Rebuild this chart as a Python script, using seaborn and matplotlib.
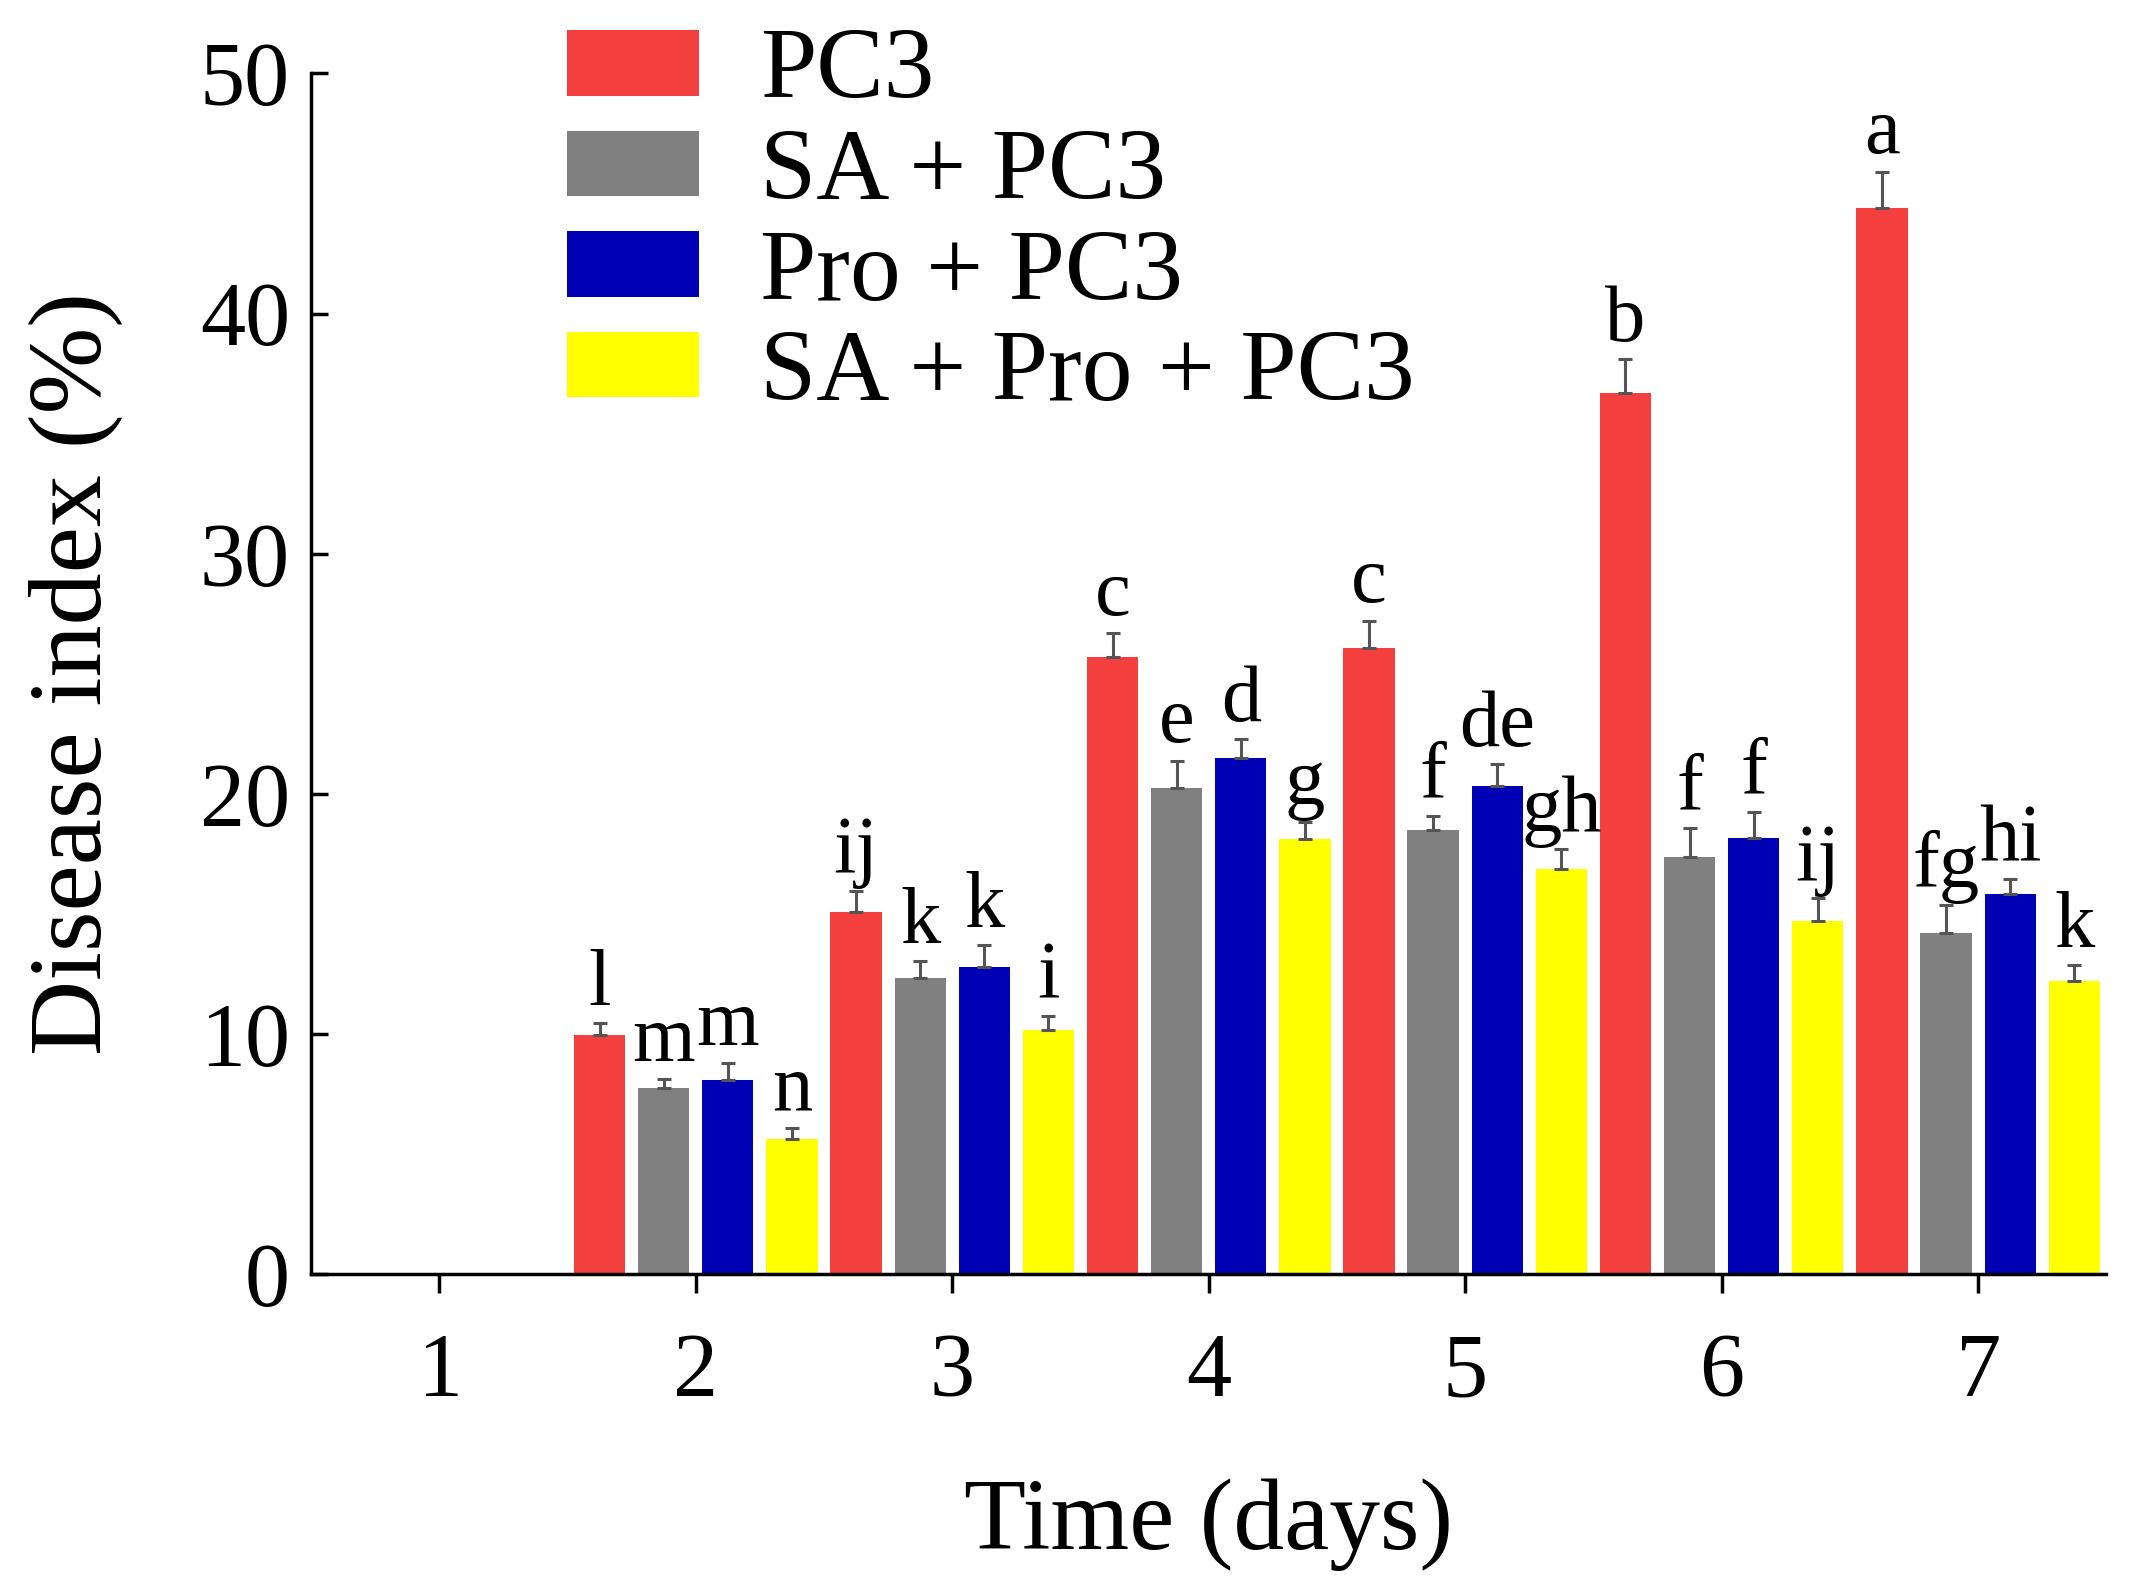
import numpy as np
import pandas as pd
import matplotlib
matplotlib.use("Agg")
import matplotlib.pyplot as plt
import seaborn as sns

days = ["1", "2", "3", "4", "5", "6", "7"]
groups = ["PC3", "SA + PC3", "Pro + PC3", "SA + Pro + PC3"]
colors = ["#F43F3F", "#808080", "#0000B4", "#FFFF00"]

pc3 = [0, 9.96, 15.08, 25.7, 26.06, 36.7, 44.4]
sa_pc3 = [0, 7.75, 12.35, 20.24, 18.5, 17.37, 14.22]
pro_pc3 = [0, 8.09, 12.81, 21.49, 20.33, 18.18, 15.83]
sa_pro_pc3 = [0, 5.62, 10.16, 18.13, 16.89, 14.7, 12.23]

pc3_err = [0, 0.5, 0.9, 1.0, 1.15, 1.4, 1.5]
sa_pc3_err = [0, 0.38, 0.7, 1.15, 0.58, 1.2, 1.16]
pro_pc3_err = [0, 0.7, 0.9, 0.8, 0.9, 1.06, 0.64]
sa_pro_pc3_err = [0, 0.46, 0.6, 0.7, 0.8, 0.97, 0.64]

pc3_letters = ["", "l", "ij", "c", "c", "b", "a"]
sa_pc3_letters = ["", "m", "k", "e", "f", "f", "fg"]
pro_pc3_letters = ["", "m", "k", "d", "de", "f", "hi"]
sa_pro_pc3_letters = ["", "n", "i", "g", "gh", "ij", "k"]

values = [pc3, sa_pc3, pro_pc3, sa_pro_pc3]
errs = [pc3_err, sa_pc3_err, pro_pc3_err, sa_pro_pc3_err]
letters = [pc3_letters, sa_pc3_letters, pro_pc3_letters, sa_pro_pc3_letters]

rows = []
for g, vals in zip(groups, values):
    for d, v in zip(days, vals):
        rows.append({"day": d, "group": g, "value": v})
df = pd.DataFrame(rows)

sns.set_style("ticks")
plt.rcParams["font.family"] = ["Liberation Serif", "DejaVu Serif"]
plt.rcParams["text.color"] = "black"
plt.rcParams["axes.labelcolor"] = "black"
plt.rcParams["xtick.color"] = "black"
plt.rcParams["ytick.color"] = "black"

fig = plt.figure(figsize=(21.45, 15.94), dpi=100)
ax = fig.add_axes([0.145, 0.2005, 0.982 - 0.145, 0.954 - 0.2005])

sns.barplot(data=df, x="day", y="value", hue="group", order=days,
            hue_order=groups, palette=colors, width=1.0, gap=0.2,
            errorbar=None, saturation=1, ax=ax, legend=False,
            edgecolor="none")

bar_containers = list(ax.containers)
for ci, cont in enumerate(bar_containers):
    xs = [b.get_x() + b.get_width() / 2 for b in cont]
    hs = [b.get_height() for b in cont]
    e = errs[ci]
    xs_e = [x for x, h in zip(xs, hs) if h > 0]
    hs_e = [h for h in hs if h > 0]
    e_e = [ev for ev, h in zip(e, hs) if h > 0]
    ax.errorbar(xs_e, hs_e, yerr=[np.zeros(len(e_e)), e_e], fmt="none",
                ecolor="#555555", elinewidth=2.2, capsize=5, capthick=2.2,
                zorder=3)
    for x, h, ev, lab in zip(xs, hs, e, letters[ci]):
        if lab:
            ax.annotate(lab, (x, h + ev), xytext=(0, 1),
                        textcoords="offset points", ha="center", va="bottom",
                        fontsize=58, color="black")

ax.set_xlim(-0.5, 6.5)
ax.set_ylim(0, 50)
ax.set_yticks([0, 10, 20, 30, 40, 50])
sns.despine(ax=ax, top=True, right=True)
for s in ["left", "bottom"]:
    ax.spines[s].set_linewidth(2.5)
    ax.spines[s].set_color("black")

ax.tick_params(axis="x", direction="out", length=14, width=2.5,
               labelsize=65, pad=28)
ax.tick_params(axis="y", direction="in", length=12, width=2.5,
               labelsize=65, pad=15)

ax.set_xlabel("Time (days)", fontsize=73)
ax.set_ylabel("Disease index (%)", fontsize=75)
ax.xaxis.set_label_coords(0.5, -0.17)
ax.yaxis.set_label_coords(-0.105, 0.5)

handles = [plt.Rectangle((0, 0), 1, 1, facecolor=c, edgecolor="none") for c in colors]
ax.legend(handles, groups, loc="upper left",
          bbox_to_anchor=(567 / 2145, 1 - 28 / 1594),
          bbox_transform=fig.transFigure, frameon=False, fontsize=73,
          handlelength=1.3, handleheight=0.62, handletextpad=0.6,
          labelspacing=0.08, borderpad=0, borderaxespad=0)

fig.savefig("out.png", dpi=100)
